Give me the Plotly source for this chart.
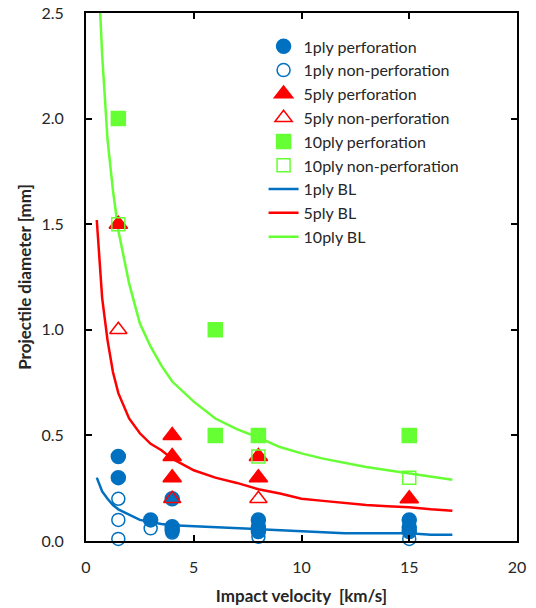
import plotly.graph_objects as go

# ---- data ----
ply1_perf_x = [1.5, 1.5, 3, 4, 4, 4, 8, 8, 8, 15, 15, 15]
ply1_perf_y = [0.4, 0.3, 0.1, 0.2, 0.067, 0.05, 0.1, 0.066, 0.045, 0.1, 0.065, 0.045]
ply1_non_x = [1.5, 1.5, 1.5, 3, 4, 8, 15]
ply1_non_y = [0.2, 0.1, 0.01, 0.06, 0.04, 0.02, 0.01]
ply5_perf_x = [1.5, 4, 4, 4, 8, 8, 15]
ply5_perf_y = [1.5, 0.5, 0.4, 0.3, 0.4, 0.3, 0.2]
ply5_non_x = [1.5, 4, 8]
ply5_non_y = [1.0, 0.2, 0.2]
ply10_perf_x = [1.5, 6, 6, 8, 15]
ply10_perf_y = [2.0, 1.0, 0.5, 0.5, 0.5]
ply10_non_x = [1.5, 8, 15]
ply10_non_y = [1.5, 0.4, 0.3]

bl_x = [0.5, 0.75, 1, 1.25, 1.5, 2, 2.5, 3, 3.5, 4, 5, 6, 7, 8, 9, 10, 11, 12, 13, 14, 15, 16, 17]
bl1_y = [0.30, 0.235, 0.2, 0.17, 0.15, 0.123, 0.10, 0.09, 0.08, 0.075, 0.07, 0.065, 0.06, 0.057,
         0.05, 0.045, 0.04, 0.037, 0.037, 0.037, 0.037, 0.03, 0.03]
bl5_y = [1.52, 1.15, 0.95, 0.80, 0.70, 0.58, 0.51, 0.46, 0.43, 0.39, 0.335, 0.30, 0.275, 0.245,
         0.225, 0.20, 0.19, 0.18, 0.17, 0.165, 0.16, 0.15, 0.143]
bl10_y = [2.85, 2.3, 1.9, 1.66, 1.47, 1.22, 1.03, 0.92, 0.83, 0.755, 0.66, 0.58, 0.53, 0.49,
          0.445, 0.415, 0.39, 0.37, 0.35, 0.335, 0.32, 0.305, 0.29]

x_ticks = [0, 5, 10, 15, 20]
y_ticks = [0.0, 0.5, 1.0, 1.5, 2.0, 2.5]

BLUE = "#0070C0"
RED = "#FF0000"
GREEN = "#66FF33"
TXT = "#262626"

fig = go.Figure()

# lines (drawn first, listed last in legend)
for name, ys, col, rk in [("1ply BL", bl1_y, BLUE, 7), ("5ply BL", bl5_y, RED, 8),
                          ("10ply BL", bl10_y, GREEN, 9)]:
    fig.add_trace(go.Scatter(x=bl_x, y=ys, mode="lines", name=name, legendrank=rk,
                             line=dict(color=col, width=2.5)))

markers = [
    ("1ply perforation", ply1_perf_x, ply1_perf_y, "circle", BLUE, 14, 1),
    ("1ply non-perforation", ply1_non_x, ply1_non_y, "circle-open", BLUE, 13, 2),
    ("5ply perforation", ply5_perf_x, ply5_perf_y, "triangle-up", RED, 16, 3),
    ("5ply non-perforation", ply5_non_x, ply5_non_y, "triangle-up-open", RED, 15, 4),
    ("10ply perforation", ply10_perf_x, ply10_perf_y, "square", GREEN, 14, 5),
    ("10ply non-perforation", ply10_non_x, ply10_non_y, "square-open", GREEN, 13, 6),
]
for name, xs, ys, sym, col, sz, rk in markers:
    fig.add_trace(go.Scatter(x=xs, y=ys, mode="markers", name=name, legendrank=rk,
                             cliponaxis=False,
                             marker=dict(symbol=sym, color=col, size=sz,
                                         line=dict(color=col, width=1.5))))

axis_common = dict(showline=True, linecolor="black", linewidth=2, mirror="ticks",
                   ticks="inside", ticklen=6, tickwidth=1.5, tickcolor="black",
                   showgrid=False, zeroline=False, automargin=False,
                   tickfont=dict(size=16, color=TXT))

fig.update_xaxes(range=[0, 20], tickvals=x_ticks, ticktext=[str(v) for v in x_ticks],
                 title=dict(text="<b>Impact velocity  [km/s]</b>", font=dict(size=17, color=TXT),
                            standoff=15),
                 ticklabelstandoff=11, **axis_common)
fig.update_yaxes(range=[0, 2.5], tickvals=y_ticks, ticktext=[f"{v:.1f}" for v in y_ticks],
                 title=dict(text="<b>Projectile diameter [mm]</b>", font=dict(size=17, color=TXT),
                            standoff=6),
                 ticklabelstandoff=17, **axis_common)

fig.update_layout(
    width=536, height=608,
    margin=dict(l=86, r=19, t=13, b=67),
    paper_bgcolor="white", plot_bgcolor="white",
    font=dict(family="Lato, Carlito, sans-serif", size=16, color=TXT),
    showlegend=True,
    legend=dict(x=0.412, y=0.969, xanchor="left", yanchor="top",
                bgcolor="rgba(0,0,0,0)", font=dict(size=16),
                tracegroupgap=0, itemwidth=30),
)

fig.write_html("out.html")
